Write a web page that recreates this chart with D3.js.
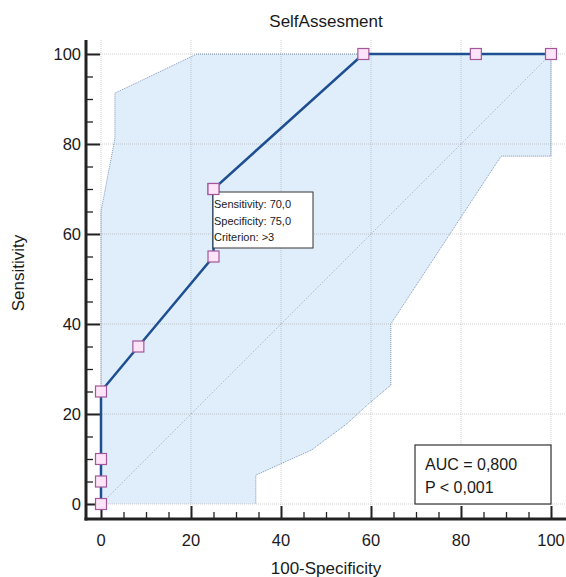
<!DOCTYPE html>
<html>
<head>
<meta charset="utf-8">
<script src="https://cdn.jsdelivr.net/npm/d3@7"></script>
<style>
  body { margin: 0; background: #fff; }
  text { font-family: "Liberation Sans", Arial, sans-serif; fill: #1a1a1a; }
</style>
</head>
<body>
<div id="chart"></div>
<script>
// ROC curve points (100-Specificity, Sensitivity)
var rocFpr  = [0, 0, 0, 0, 8.3, 25, 25, 58.3, 83.3, 100];
var rocSens = [0, 5, 10, 25, 35, 55, 70, 100, 100, 100];

// confidence band, upper edge (left to right) then lower edge (right to left)
var bandUpperX = [0, 0, 3.1, 3.1, 21.3, 100];
var bandUpperY = [0, 65, 81.3, 91.3, 100, 100];
var bandLowerX = [100, 88.9, 64.4, 64.4, 62.7, 59.4, 54.6, 46.8, 40.1, 34.4, 34.4];
var bandLowerY = [77.3, 77.3, 40, 26.4, 25, 22.2, 17.8, 12, 9, 6.4, 0];

var majorTicks = [0, 20, 40, 60, 80, 100];
var minorTicks = d3.range(0, 101, 5).filter(function(d) { return d % 20 != 0; });

var titleText = "SelfAssesment";
var xLabel = "100-Specificity";
var yLabel = "Sensitivity";
var tipLines = ["Sensitivity: 70,0", "Specificity: 75,0", "Criterion: >3"];
var aucLines = ["AUC = 0,800", "P < 0,001"];

var W = 566, H = 577;
var svg = d3.select("#chart").append("svg")
    .attr("width", W).attr("height", H);

var x = d3.scaleLinear().domain([0, 100]).range([101, 551]);
var y = d3.scaleLinear().domain([0, 100]).range([504, 54]);

// plot frame
var pLeft = 86, pRight = 566, pTop = 40, pBottom = 519;

// band
var band = [];
for (var i = 0; i < bandUpperX.length; i++) band.push([bandUpperX[i], bandUpperY[i]]);
for (var i = 0; i < bandLowerX.length; i++) band.push([bandLowerX[i], bandLowerY[i]]);

svg.append("path")
    .datum(band)
    .attr("d", d3.line().x(function(d) { return x(d[0]); }).y(function(d) { return y(d[1]); }))
    .attr("fill", "#e0eefc")
    .attr("stroke", "#5f7fa8")
    .attr("stroke-width", 0.8)
    .attr("stroke-dasharray", "1,1");

// grid
svg.append("g").selectAll("line")
    .data(majorTicks).enter().append("line")
    .attr("x1", function(d) { return x(d); }).attr("x2", function(d) { return x(d); })
    .attr("y1", pTop).attr("y2", pBottom)
    .attr("stroke", "#8a8a8a").attr("stroke-opacity", 0.4)
    .attr("stroke-width", 1).attr("stroke-dasharray", "1,1");
svg.append("g").selectAll("line")
    .data(majorTicks).enter().append("line")
    .attr("y1", function(d) { return y(d); }).attr("y2", function(d) { return y(d); })
    .attr("x1", pLeft).attr("x2", pRight)
    .attr("stroke", "#8a8a8a").attr("stroke-opacity", 0.4)
    .attr("stroke-width", 1).attr("stroke-dasharray", "1,1");

// diagonal
svg.append("line")
    .attr("x1", x(0)).attr("y1", y(0)).attr("x2", x(100)).attr("y2", y(100))
    .attr("stroke", "#8c9bb0").attr("stroke-width", 0.8)
    .attr("stroke-dasharray", "1,1.5");

// axes
var xAxisMajor = d3.axisTop(x).tickValues(majorTicks).tickSize(13).tickFormat("");
var xAxisMinor = d3.axisTop(x).tickValues(minorTicks).tickSize(7).tickFormat("");
var yAxisMajor = d3.axisRight(y).tickValues(majorTicks).tickSize(14).tickFormat("");
var yAxisMinor = d3.axisRight(y).tickValues(minorTicks).tickSize(7).tickFormat("");

[xAxisMajor, xAxisMinor].forEach(function(ax, k) {
  var g = svg.append("g").attr("transform", "translate(0," + pBottom + ")").call(ax);
  g.select(".domain").remove();
  g.selectAll("line").attr("stroke", "#222").attr("stroke-width", k == 0 ? 2 : 1.3);
});
[yAxisMajor, yAxisMinor].forEach(function(ax, k) {
  var g = svg.append("g").attr("transform", "translate(" + pLeft + ",0)").call(ax);
  g.select(".domain").remove();
  g.selectAll("line").attr("stroke", "#222").attr("stroke-width", k == 0 ? 2 : 1.3);
});
svg.append("line").attr("x1", pLeft).attr("x2", pLeft).attr("y1", pTop).attr("y2", pBottom + 1.5)
    .attr("stroke", "#222").attr("stroke-width", 3);
svg.append("line").attr("x1", pLeft - 1.5).attr("x2", pRight).attr("y1", pBottom).attr("y2", pBottom)
    .attr("stroke", "#222").attr("stroke-width", 3);

// tick labels
svg.append("g").selectAll("text")
    .data(majorTicks).enter().append("text")
    .attr("x", function(d) { return x(d); }).attr("y", 546)
    .attr("text-anchor", "middle").attr("font-size", 16.5)
    .text(function(d) { return d; });
svg.append("g").selectAll("text")
    .data(majorTicks).enter().append("text")
    .attr("x", 81).attr("y", function(d) { return y(d) + 6; })
    .attr("text-anchor", "end").attr("font-size", 16.5)
    .text(function(d) { return d; });

// titles
svg.append("text").attr("x", 326).attr("y", 27).attr("text-anchor", "middle")
    .attr("font-size", 17).text(titleText);
svg.append("text").attr("x", 326).attr("y", 574).attr("text-anchor", "middle")
    .attr("font-size", 17).text(xLabel);
svg.append("text").attr("transform", "translate(24,273) rotate(-90)")
    .attr("text-anchor", "middle").attr("font-size", 17).text(yLabel);

// ROC curve
var roc = rocFpr.map(function(d, i) { return [d, rocSens[i]]; });
svg.append("path")
    .datum(roc)
    .attr("d", d3.line().x(function(d) { return x(d[0]); }).y(function(d) { return y(d[1]); }))
    .attr("fill", "none").attr("stroke", "#1d4f91").attr("stroke-width", 2.5);

svg.append("g").selectAll("rect")
    .data(roc).enter().append("rect")
    .attr("x", function(d) { return x(d[0]) - 5.5; })
    .attr("y", function(d) { return y(d[1]) - 5.5; })
    .attr("width", 11).attr("height", 11)
    .attr("fill", "#fde4f8").attr("stroke", "#a2579a").attr("stroke-width", 1.2);

// criterion tooltip
var tip = svg.append("g");
tip.append("rect").attr("x", 213).attr("y", 192).attr("width", 100).attr("height", 56)
    .attr("fill", "#fff").attr("stroke", "#333").attr("stroke-width", 1);
tip.selectAll("text").data(tipLines).enter().append("text")
    .attr("x", 214).attr("y", function(d, i) { return 208 + i * 16.5; })
    .attr("font-size", 11).text(function(d) { return d; });
// redraw the marker on top of the box corner
svg.append("rect").attr("x", x(25) - 5.5).attr("y", y(70) - 5.5).attr("width", 11).attr("height", 11)
    .attr("fill", "#fde4f8").attr("stroke", "#a2579a").attr("stroke-width", 1.2);

// AUC box
var auc = svg.append("g");
auc.append("rect").attr("x", 415).attr("y", 445).attr("width", 136).attr("height", 59)
    .attr("fill", "#fff").attr("stroke", "#333").attr("stroke-width", 1.2);
auc.selectAll("text").data(aucLines).enter().append("text")
    .attr("x", 425).attr("y", function(d, i) { return 470 + i * 23; })
    .attr("font-size", 16).text(function(d) { return d; });
</script>
</body>
</html>
